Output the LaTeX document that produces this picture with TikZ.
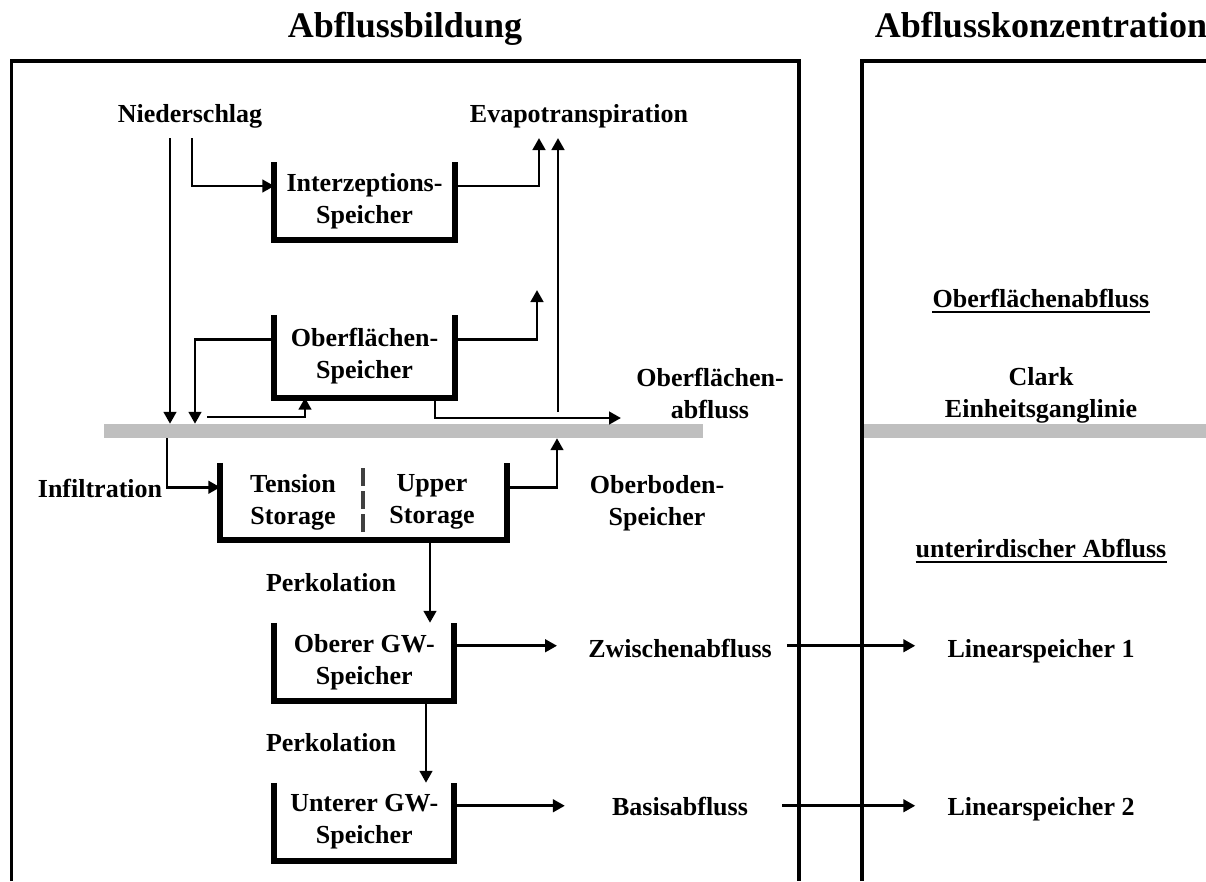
\documentclass[tikz,border=0pt]{standalone}
\usepackage{fontspec}
\setmainfont{Liberation Serif}
\usetikzlibrary{arrows.meta}
\definecolor{bargray}{HTML}{BFBFBF}
\definecolor{divgray}{HTML}{404040}
\newcommand\lbfont{\fontsize{26}{32}\selectfont\bfseries}
\newcommand\ttlfont{\fontsize{36}{40}\selectfont\bfseries}
\tikzset{
  frame/.style={line width=3.2pt},
  flow/.style={line width=2.9pt, -{Triangle[length=12pt,width=12.5pt]}},
  store/.style={inner sep=0pt, minimum width=180pt, minimum height=77pt, align=center, font=\lbfont},
  wall/.style={line width=6pt},
  lbl/.style={inner sep=0pt, anchor=base, font=\lbfont},
  lbltwo/.style={inner sep=0pt, align=center, font=\lbfont},
  title/.style={inner sep=0pt, anchor=base, font=\ttlfont},
  ground/.style={fill=bargray, inner sep=0pt, minimum height=14pt},
  uline/.style={line width=2.8pt},
}
\begin{document}
\begin{tikzpicture}[x=1pt,y=-1pt]
\useasboundingbox (0,0) rectangle (1206,881);

% titles
\node[title] (t1) at (405,37) {Abflussbildung};
\node[title] (t2) at (1041,37) {Abflusskonzentration};

% ground surface bars
\node[ground, minimum width=599pt] (bar) at (403.5,431) {};
\node[ground, minimum width=344pt] (bar2) at (1034,431) {};

% frames
\draw[frame] (11.5,881) -- (11.5,61) -- (799,61) -- (799,881);
\draw[frame] (862,881) -- (862,61) -- (1206,61);

% labels
\node[lbl] (nied) at (190,122) {Niederschlag};
\node[lbl] (evap) at (579,122) {Evapotranspiration};
\node[lbl] (infl) at (100,497) {Infiltration};
\node[lbl] (perk1) at (331,591) {Perkolation};
\node[lbl] (perk2) at (331,751) {Perkolation};
\node[lbl] (zw) at (680,657) {Zwischenabfluss};
\node[lbl] (basis) at (680,815) {Basisabfluss};
\node[lbl] (ls1) at (1041,657) {Linearspeicher 1};
\node[lbl] (ls2) at (1041,815) {Linearspeicher 2};
\node[lbl] (ofa) at (1041,307) {Oberflächenabfluss};
\node[lbl] (uta) at (1041,557) {unterirdischer Abfluss};
\node[lbltwo] (ofab) at (710,393) {Oberflächen-\\abfluss};
\node[lbltwo] (obs) at (657,503) {Oberboden-\\Speicher};
\node[lbltwo] (clark) at (1041,395) {Clark\\Einheitsganglinie};

\draw[uline] ([yshift=-5pt]ofa.base west) -- ([yshift=-5pt]ofa.base east);
\draw[uline] ([yshift=-5pt]uta.base west) -- ([yshift=-5pt]uta.base east);

% storages
\node[store] (inter) at (364.5,201) {Interzeptions-\\Speicher};
\node[store, minimum height=82.5pt] (ofs) at (364.5,356.25) {Oberflächen-\\Speicher};
\node[inner sep=0pt, minimum width=286.5pt, minimum height=76.5pt] (soil) at (363.75,501.25) {};
\node[lbltwo] (tens) at (293,502) {Tension\\Storage};
\node[lbltwo] (upper) at (432,502) {Upper\\Storage};
\node[store, minimum width=179.5pt, minimum height=77.5pt] (ogw) at (364.25,661.75) {Oberer GW-\\Speicher};
\node[store, minimum width=179.5pt, minimum height=77.5pt] (ugw) at (364.25,821.75) {Unterer GW-\\Speicher};

% flow points
\coordinate (n1) at (170,138);
\coordinate (n2) at (192,138);
\coordinate (ev1) at (539,138);
\coordinate (ev2s) at (558,412);
\coordinate (ev3) at (537,290);
\coordinate (o1) at (195,0);
\coordinate (fi) at (207,417);
\coordinate (ofo) at (621,418);
\coordinate (inf) at (167,0);
\coordinate (ob) at (557,0);
\coordinate (p1) at (430,0);
\coordinate (p2) at (426,0);
\coordinate (zo) at ([yshift=16pt]ogw.east);
\coordinate (bo) at ([yshift=16pt]ugw.east);

% precipitation
\draw[flow] (n1) -- (n1 |- bar.north);
\draw[flow] (n2) |- ([yshift=15pt]inter.west);
\draw[flow] ([yshift=15pt]inter.east) -| (ev1);
\draw[flow] (ev2s) -- (ev2s |- ev1);

% surface storage
\draw[flow] ([yshift=17pt]ofs.west) -| (o1 |- bar.north);
\draw[flow] ([yshift=17pt]ofs.east) -| (ev3);
\draw[flow] (fi) -| ([xshift=-59.5pt]ofs.south);
\draw[flow] ([xshift=70.5pt]ofs.south) |- (ofo);

% soil
\draw[flow] (inf |- bar.south) |- ([yshift=14pt]soil.west);
\draw[flow] ([yshift=14pt]soil.east) -| (ob |- bar.south);
\draw[line width=4pt, divgray, dash pattern=on 18pt off 5pt] (363,468) -- (363,534);

% groundwater
\draw[flow] (p1 |- soil.south) -- (p1 |- ogw.north);
\draw[flow] (p2 |- ogw.south) -- (p2 |- ugw.north);
\draw[flow, shorten >=31pt] (zo) -- (zo -| zw.west);
\draw[flow, shorten <=15pt, shorten >=32pt] (zo -| zw.east) -- (zo -| ls1.west);
\draw[flow, shorten >=47pt] (bo) -- (bo -| basis.west);
\draw[flow, shorten <=34pt, shorten >=32pt] (bo -| basis.east) -- (bo -| ls2.west);

% storage walls
\foreach \s in {inter,ofs,soil,ogw,ugw}
  \draw[wall] (\s.north west) -- (\s.south west) -- (\s.south east) -- (\s.north east);
\end{tikzpicture}
\end{document}
